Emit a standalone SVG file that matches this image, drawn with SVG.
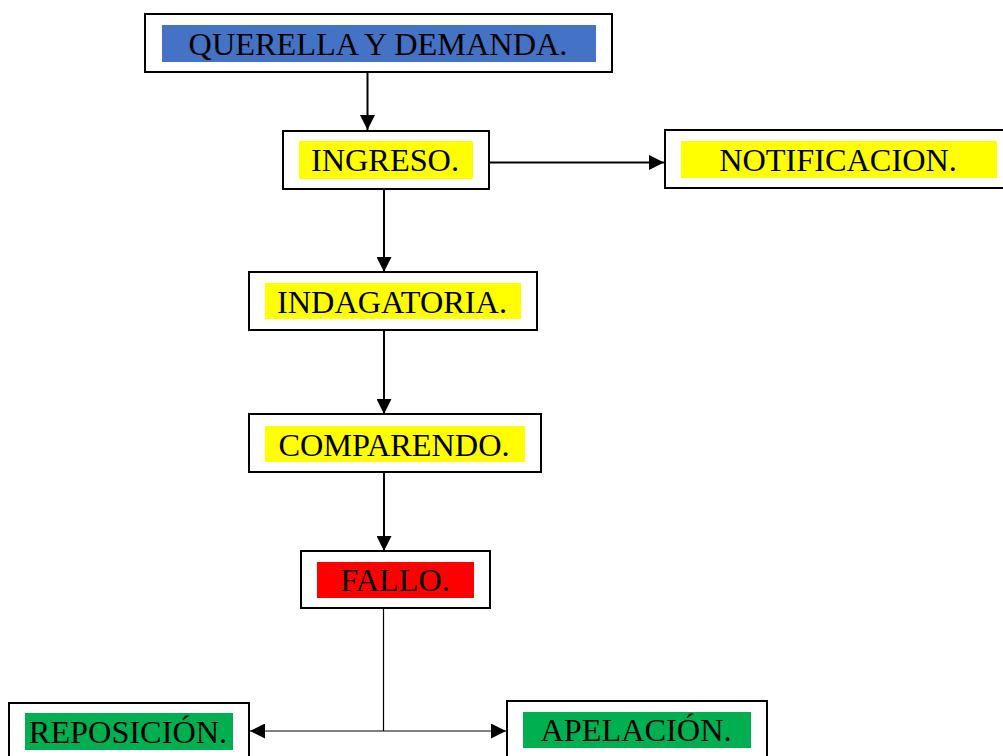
<svg xmlns="http://www.w3.org/2000/svg" width="1003" height="756" viewBox="0 0 1003 756">
<defs>
<marker id="ah" viewBox="0 0 10 10" refX="10" refY="5" markerWidth="15" markerHeight="15" markerUnits="userSpaceOnUse" orient="auto-start-reverse">
<path d="M0,0 L10,5 L0,10 Z" fill="#000"/>
</marker>
<style>
.box{fill:#fff;stroke:#000;stroke-width:2}
.t{font-family:"Liberation Serif","Times New Roman",serif;font-size:32.3px;fill:#000;text-anchor:middle}
.c{fill:none;stroke:#000;stroke-width:2}
.thin{fill:none;stroke:#000;stroke-width:1.2}
</style>
</defs>
<rect width="1003" height="756" fill="#fff"/>
<g id="querella">
<rect class="box" x="145" y="14" width="467" height="58"/>
<rect x="162" y="25" width="434" height="37" fill="#4472C4"/>
<text class="t" x="378" y="55">QUERELLA Y DEMANDA.</text>
</g>
<g id="ingreso">
<rect class="box" x="283" y="131" width="206" height="58"/>
<rect x="299" y="141" width="174" height="38" fill="#FFFF00"/>
<text class="t" x="385" y="171">INGRESO.</text>
</g>
<g id="notificacion">
<rect class="box" x="665" y="130" width="345" height="58"/>
<rect x="681" y="141" width="316" height="37" fill="#FFFF00"/>
<text class="t" x="838" y="171">NOTIFICACION.</text>
</g>
<g id="indagatoria">
<rect class="box" x="249" y="272" width="288" height="58"/>
<rect x="265" y="283" width="256" height="36" fill="#FFFF00"/>
<text class="t" x="392" y="313">INDAGATORIA.</text>
</g>
<g id="comparendo">
<rect class="box" x="249" y="414" width="292" height="58"/>
<rect x="265" y="426" width="260" height="36" fill="#FFFF00"/>
<text class="t" x="394" y="456">COMPARENDO.</text>
</g>
<g id="fallo">
<rect class="box" x="301" y="551" width="189" height="57"/>
<rect x="317" y="562" width="157" height="36" fill="#FF0000"/>
<text class="t" x="395" y="591">FALLO.</text>
</g>
<g id="reposicion">
<rect class="box" x="9" y="703" width="240" height="70"/>
<rect x="25" y="713" width="208" height="37" fill="#00B050"/>
<text class="t" x="128" y="743">REPOSICIÓN.</text>
</g>
<g id="apelacion">
<rect class="box" x="507" y="701" width="260" height="70"/>
<rect x="523" y="712" width="228" height="36" fill="#00B050"/>
<text class="t" x="636" y="741">APELACIÓN.</text>
</g>
<g id="connectors">
<line class="c" x1="367.5" y1="72" x2="367.5" y2="130" marker-end="url(#ah)"/>
<line class="c" x1="489" y1="162.5" x2="664" y2="162.5" marker-end="url(#ah)"/>
<line class="c" x1="384" y1="189" x2="384" y2="272" marker-end="url(#ah)"/>
<line class="c" x1="384" y1="330" x2="384" y2="414" marker-end="url(#ah)"/>
<line class="c" x1="384" y1="472" x2="384" y2="551" marker-end="url(#ah)"/>
<line class="thin" x1="383.5" y1="608" x2="383.5" y2="731"/>
<line class="thin" x1="250" y1="731" x2="506" y2="731" marker-start="url(#ah)" marker-end="url(#ah)"/>
</g>
</svg>
